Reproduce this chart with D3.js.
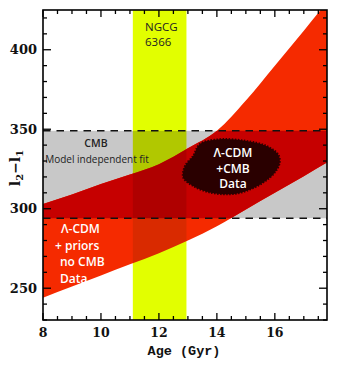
<!DOCTYPE html>
<html>
<head>
<meta charset="utf-8">
<script src="https://cdn.jsdelivr.net/npm/d3@7"></script>
<style>
  html, body { margin: 0; padding: 0; background: #fff; }
  svg { display: block; }
</style>
</head>
<body>
<svg id="chart" width="338" height="365"></svg>
<script>
// Red band: Λ-CDM + priors (no CMB data), bounds on l2 − l1 versus age
const bandAge   = [8, 9, 10, 11, 12, 13, 14, 15, 16, 17, 17.8];
const bandUpper = [303, 309, 315.5, 321.5, 328, 338, 349, 368, 390, 412, 430];
const bandLower = [244, 251, 258, 265, 272, 280, 289, 299.5, 310, 320.5, 329];

// CMB model-independent fit range
const cmbRange = [294, 349];

// NGC 6366 age range (Gyr)
const clusterAge = [11.1, 12.95];

// Λ-CDM + CMB data region (closed outline)
const blobAge = [13.41, 14.10, 15.02, 15.71, 16.11, 16.17, 16.0, 15.6, 15.02, 14.45, 13.76, 13.18, 12.84, 12.9, 13.18];
const blobVal = [340.6, 343.7, 342.6, 339.5, 334.3, 329.1, 322.8, 316.5, 311.2, 309.1, 310.2, 314.3, 319.6, 326.9, 333.2];

// Axis ticks
const xMajor = [8, 10, 12, 14, 16];
const yMajor = [250, 300, 350, 400];

const W = 338, H = 365;
const m = { left: 43, right: 11, top: 10, bottom: 45 };
const svg = d3.select("#chart");

const x = d3.scaleLinear().domain([8, 17.8]).range([m.left, W - m.right]);
const y = d3.scaleLinear().domain([230, 425]).range([H - m.bottom, m.top]);

const defs = svg.append("defs");
defs.append("clipPath").attr("id", "plotClip")
  .append("rect")
  .attr("x", x.range()[0]).attr("y", y.range()[1])
  .attr("width", x.range()[1] - x.range()[0])
  .attr("height", y.range()[0] - y.range()[1]);
defs.append("clipPath").attr("id", "cmbClip")
  .append("rect")
  .attr("x", x.range()[0]).attr("y", y(cmbRange[1]))
  .attr("width", x.range()[1] - x.range()[0])
  .attr("height", y(cmbRange[0]) - y(cmbRange[1]));

const plot = svg.append("g").attr("clip-path", "url(#plotClip)");

// grey CMB band
plot.append("rect")
  .attr("x", x.range()[0]).attr("y", y(cmbRange[1]))
  .attr("width", x.range()[1] - x.range()[0])
  .attr("height", y(cmbRange[0]) - y(cmbRange[1]))
  .attr("fill", "#c8c8c8");

const bandData = bandAge.map((a, i) => ({ a, lo: bandLower[i], hi: bandUpper[i] }));
const area = d3.area()
  .x(d => x(d.a))
  .y0(d => y(d.lo))
  .y1(d => y(d.hi))
  .curve(d3.curveMonotoneX);

plot.append("path").attr("d", area(bandData)).attr("fill", "#f52a00");
// overlap of red band with CMB band
plot.append("g").attr("clip-path", "url(#cmbClip)")
  .append("path").attr("d", area(bandData)).attr("fill", "#c60000");

// cluster age band
plot.append("rect")
  .attr("x", x(clusterAge[0])).attr("y", y.range()[1])
  .attr("width", x(clusterAge[1]) - x(clusterAge[0]))
  .attr("height", y.range()[0] - y.range()[1])
  .attr("fill", "#e2ff00")
  .style("mix-blend-mode", "multiply");

// dashed CMB bounds
cmbRange.forEach(v => {
  plot.append("line")
    .attr("x1", x.range()[0]).attr("x2", x.range()[1])
    .attr("y1", y(v)).attr("y2", y(v))
    .attr("stroke", "#111").attr("stroke-width", 1.6)
    .attr("stroke-dasharray", "7.5,6");
});

// Λ-CDM + CMB region
const blobPts = blobAge.map((a, i) => [x(a), y(blobVal[i])]);
plot.append("path")
  .attr("d", d3.line().curve(d3.curveCatmullRomClosed)(blobPts))
  .attr("fill", "#2a0000")
  .attr("stroke", "#2a0000").attr("stroke-width", 2)
  .attr("stroke-dasharray", "1.5,1.5");

// labels inside the plot
const sans = "'Open Sans', 'Noto Sans', sans-serif";
function textBlock(lines, px, py, dy, opts) {
  const t = svg.append("text")
    .attr("font-family", sans)
    .attr("font-size", opts.size)
    .attr("font-weight", opts.weight || 400)
    .attr("fill", opts.fill)
    .attr("text-anchor", opts.anchor || "start");
  lines.forEach((s, i) => {
    t.append("tspan").attr("x", Array.isArray(px) ? px[i] : px).attr("y", py + i * dy).text(s);
  });
}
textBlock(["NGCG"], 145, 31, 0, { size: 11.5, fill: "#222", weight: 500 });
textBlock(["6366"], 145, 46, 0, { size: 11.5, fill: "#222", weight: 500 });
textBlock(["CMB"], 96, 147, 0, { size: 10.5, fill: "#222", weight: 600, anchor: "middle" });
textBlock(["Model independent fit"], 97, 163, 0, { size: 10, fill: "#222", weight: 500, anchor: "middle" });
textBlock(["Λ-CDM", "+ priors", "no CMB", "Data"], [61, 55, 60, 60], 233, 16.5, { size: 12, fill: "#fff", weight: 600 });
textBlock(["Λ-CDM", "+CMB", "Data"], 233, 157, 15.5, { size: 12, fill: "#fff", weight: 600, anchor: "middle" });

// axes frame and ticks
const axisFont = "'DejaVu Serif', serif";
const xMinor = d3.range(8, 17.8 + 1e-9, 0.5).filter(v => !xMajor.includes(v));
const yMinor = d3.range(230, 425 + 1e-9, 10).filter(v => !yMajor.includes(v));

const axes = svg.append("g").attr("stroke", "#000").attr("stroke-width", 1.3);
// bottom & top ticks
[[xMajor, 7], [xMinor, 4]].forEach(([vals, len]) => {
  vals.forEach(v => {
    axes.append("line").attr("x1", x(v)).attr("x2", x(v)).attr("y1", y.range()[0]).attr("y2", y.range()[0] - len);
    axes.append("line").attr("x1", x(v)).attr("x2", x(v)).attr("y1", y.range()[1]).attr("y2", y.range()[1] + len);
  });
});
// left & right ticks
[[yMajor, 8], [yMinor, 4]].forEach(([vals, len]) => {
  vals.forEach(v => {
    axes.append("line").attr("y1", y(v)).attr("y2", y(v)).attr("x1", x.range()[0]).attr("x2", x.range()[0] + len);
    axes.append("line").attr("y1", y(v)).attr("y2", y(v)).attr("x1", x.range()[1]).attr("x2", x.range()[1] - len);
  });
});
svg.append("rect")
  .attr("x", x.range()[0]).attr("y", y.range()[1])
  .attr("width", x.range()[1] - x.range()[0])
  .attr("height", y.range()[0] - y.range()[1])
  .attr("fill", "none").attr("stroke", "#000").attr("stroke-width", 1.6);

// tick labels
svg.append("g").selectAll("text").data(xMajor).join("text")
  .attr("x", d => x(d)).attr("y", 337)
  .attr("text-anchor", "middle")
  .attr("font-family", axisFont).attr("font-weight", "bold").attr("font-size", 12.5)
  .attr("fill", "#111")
  .text(d => d);
svg.append("g").selectAll("text").data(yMajor).join("text")
  .attr("x", 37).attr("y", d => y(d) + 4.5)
  .attr("text-anchor", "end")
  .attr("font-family", axisFont).attr("font-weight", "bold").attr("font-size", 13)
  .attr("fill", "#111")
  .text(d => d);

// axis titles
svg.append("text")
  .attr("x", 184).attr("y", 355)
  .attr("text-anchor", "middle")
  .attr("font-family", "'Liberation Mono', 'DejaVu Sans Mono', monospace")
  .attr("font-weight", "bold").attr("font-size", 13.5)
  .attr("fill", "#111")
  .text("Age (Gyr)");

const yl = svg.append("text")
  .attr("transform", "translate(20,168) rotate(-90)")
  .attr("text-anchor", "middle")
  .attr("font-family", axisFont).attr("font-weight", "bold").attr("font-size", 14)
  .attr("fill", "#111");
yl.append("tspan").text("l");
yl.append("tspan").attr("font-size", 10).attr("dy", 3).text("2");
yl.append("tspan").attr("dy", -3).text("−l");
yl.append("tspan").attr("font-size", 10).attr("dy", 3).text("1");
</script>
</body>
</html>
